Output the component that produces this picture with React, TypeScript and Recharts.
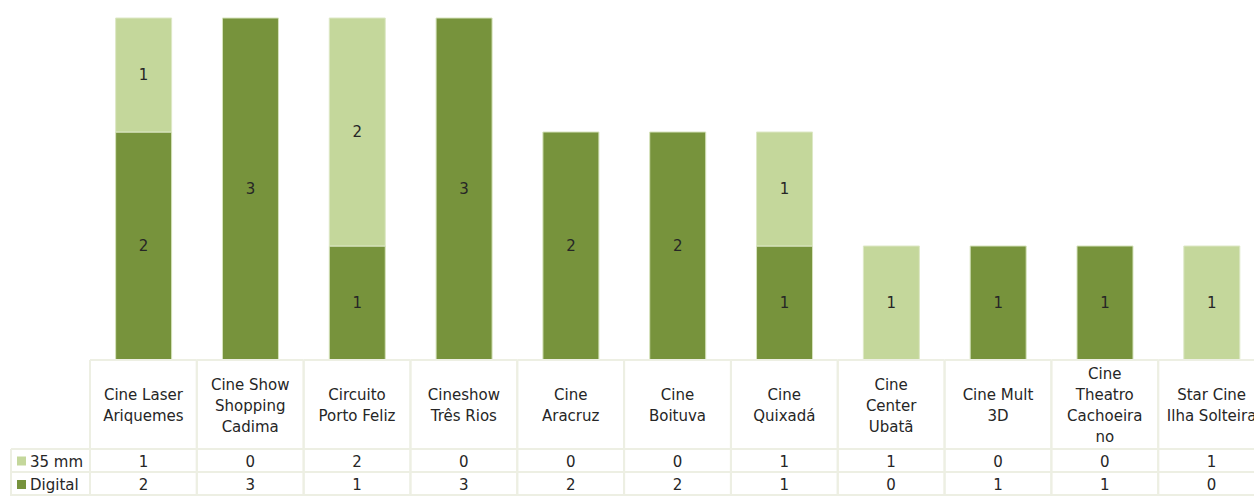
import React from 'react';
import { BarChart, Bar, XAxis, YAxis, LabelList } from 'recharts';

const categories = [
  'Cine Laser Ariquemes',
  'Cine Show Shopping Cadima',
  'Circuito Porto Feliz',
  'Cineshow Três Rios',
  'Cine Aracruz',
  'Cine Boituva',
  'Cine Quixadá',
  'Cine Center Ubatã',
  'Cine Mult 3D',
  'Cine Theatro Cachoeirano',
  'Star Cine Ilha Solteira',
];
const tickLabelLines = [
  ['Cine Laser', 'Ariquemes'],
  ['Cine Show', 'Shopping', 'Cadima'],
  ['Circuito', 'Porto Feliz'],
  ['Cineshow', 'Três Rios'],
  ['Cine', 'Aracruz'],
  ['Cine', 'Boituva'],
  ['Cine', 'Quixadá'],
  ['Cine', 'Center', 'Ubatã'],
  ['Cine Mult', '3D'],
  ['Cine', 'Theatro', 'Cachoeira', 'no'],
  ['Star Cine', 'Ilha Solteira'],
];
const series35mm = [1, 0, 2, 0, 0, 0, 1, 1, 0, 0, 1];
const seriesDigital = [2, 3, 1, 3, 2, 2, 1, 0, 1, 1, 0];
const yTicks = [0, 1, 2, 3];

const data = categories.map((name, i) => ({
  name,
  mm35: series35mm[i],
  digital: seriesDigital[i],
}));

const FONT = "'DejaVu Sans', sans-serif";
const LIGHT = '#C4D79B';
const DARK = '#77933C';
const GRID = '#EDEFE3';
const TEXT = '#262626';

const CHART_W = 1280;
const CHART_H = 496;
const M_LEFT = 90;
const M_RIGHT = 15;
const M_TOP = 18;
const XAXIS_H = 136;
const PLOT_W = CHART_W - M_LEFT - M_RIGHT;
const CAT_W = PLOT_W / categories.length;
const TABLE_TOP = CHART_H - XAXIS_H;
const ROW1_TOP = 449;
const ROW2_TOP = 472;
const TABLE_BOTTOM = 496;
const LEGEND_LEFT = 11;

function TableTick(props: any) {
  const { x, payload, index } = props;
  const i = typeof index === 'number' ? index : categories.indexOf(payload.value);
  const left = x - CAT_W / 2;
  const right = x + CAT_W / 2;
  const lines = tickLabelLines[i] || [String(payload.value)];
  const lh = 21;
  const headerMid = (TABLE_TOP + ROW1_TOP) / 2 + 1;
  const startY = headerMid - ((lines.length - 1) * lh) / 2;
  return (
    <g>
      {/* horizontal lines */}
      {[TABLE_TOP, ROW1_TOP, ROW2_TOP, TABLE_BOTTOM - 1].map((yy) => (
        <line key={yy} x1={left} x2={right} y1={yy} y2={yy} stroke={GRID} strokeWidth={2} />
      ))}
      <line x1={left} x2={left} y1={TABLE_TOP} y2={TABLE_BOTTOM} stroke={GRID} strokeWidth={2} />
      <line x1={right} x2={right} y1={TABLE_TOP} y2={TABLE_BOTTOM} stroke={GRID} strokeWidth={2} />
      {lines.map((ln, k) => (
        <text
          key={k}
          x={x}
          y={startY + k * lh}
          textAnchor="middle"
          dominantBaseline="central"
          fontFamily={FONT}
          fontSize={15}
          fill={TEXT}
        >
          {ln}
        </text>
      ))}
      <text x={x} y={(ROW1_TOP + ROW2_TOP) / 2 + 1} textAnchor="middle" dominantBaseline="central" fontFamily={FONT} fontSize={15} fill={TEXT}>
        {series35mm[i]}
      </text>
      <text x={x} y={(ROW2_TOP + TABLE_BOTTOM) / 2 + 1} textAnchor="middle" dominantBaseline="central" fontFamily={FONT} fontSize={15} fill={TEXT}>
        {seriesDigital[i]}
      </text>
      {i === 0 && (
        <g>
          {[ROW1_TOP, ROW2_TOP, TABLE_BOTTOM - 1].map((yy) => (
            <line key={yy} x1={LEGEND_LEFT} x2={left} y1={yy} y2={yy} stroke={GRID} strokeWidth={2} />
          ))}
          <line x1={LEGEND_LEFT} x2={LEGEND_LEFT} y1={ROW1_TOP} y2={TABLE_BOTTOM} stroke={GRID} strokeWidth={2} />
          <rect x={17} y={(ROW1_TOP + ROW2_TOP) / 2 - 4} width={9} height={9} fill={LIGHT} />
          <text x={30} y={(ROW1_TOP + ROW2_TOP) / 2 + 1} dominantBaseline="central" fontFamily={FONT} fontSize={15} fill={TEXT}>
            35 mm
          </text>
          <rect x={17} y={(ROW2_TOP + TABLE_BOTTOM) / 2 - 4} width={9} height={9} fill={DARK} />
          <text x={30} y={(ROW2_TOP + TABLE_BOTTOM) / 2 + 1} dominantBaseline="central" fontFamily={FONT} fontSize={15} fill={TEXT}>
            Digital
          </text>
        </g>
      )}
    </g>
  );
}

function SegLabel(props: any) {
  const { x, y, width, height, value } = props;
  if (!value) return null;
  return (
    <text
      x={x + width / 2}
      y={y + height / 2}
      textAnchor="middle"
      dominantBaseline="central"
      fontFamily={FONT}
      fontSize={15}
      fill={TEXT}
    >
      {value}
    </text>
  );
}

export default function App() {
  return (
    <div style={{ position: 'absolute', left: 0, top: 0, width: 1254, height: 496, overflow: 'hidden', background: '#fff' }}>
      <BarChart
        width={CHART_W}
        height={CHART_H}
        data={data}
        margin={{ top: M_TOP, right: M_RIGHT, bottom: 0, left: M_LEFT }}
        barCategoryGap="24%"
      >
        <XAxis
          dataKey="name"
          height={XAXIS_H}
          interval={0}
          tickLine={false}
          axisLine={false}
          tickSize={0}
          tickMargin={0}
          tick={<TableTick />}
        />
        <YAxis hide domain={[0, 3]} ticks={yTicks} width={0} />
        <Bar dataKey="digital" stackId="a" fill={DARK} stroke="#D6E3BC" strokeWidth={1} isAnimationActive={false}>
          <LabelList dataKey="digital" content={<SegLabel />} />
        </Bar>
        <Bar dataKey="mm35" stackId="a" fill={LIGHT} stroke="#DDE8C6" strokeWidth={1} isAnimationActive={false}>
          <LabelList dataKey="mm35" content={<SegLabel />} />
        </Bar>
      </BarChart>
    </div>
  );
}
